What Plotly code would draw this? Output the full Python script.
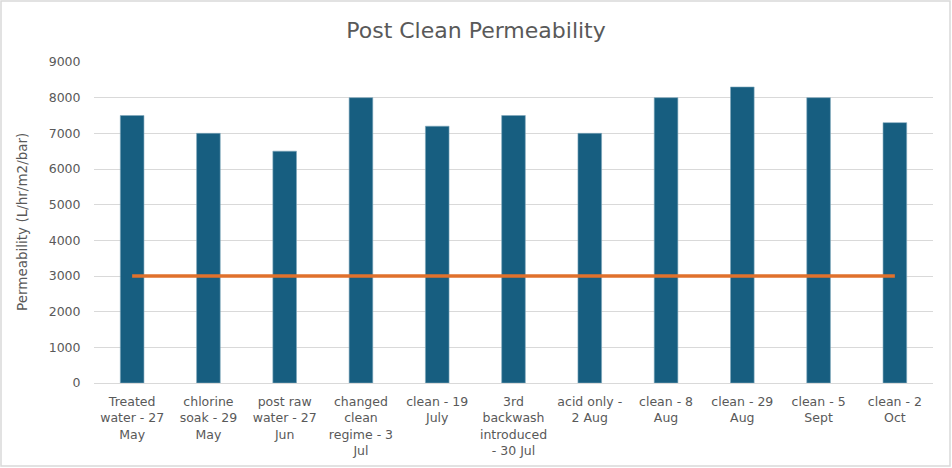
import plotly.graph_objects as go

categories = [
    "Treated<br>water - 27<br>May",
    "chlorine<br>soak - 29<br>May",
    "post raw<br>water - 27<br>Jun",
    "changed<br>clean<br>regime - 3<br>Jul",
    "clean - 19<br>July",
    "3rd<br>backwash<br>introduced<br>- 30 Jul",
    "acid only -<br>2 Aug",
    "clean - 8<br>Aug",
    "clean - 29<br>Aug",
    "clean - 5<br>Sept",
    "clean - 2<br>Oct",
]
permeability = [7500, 7000, 6500, 8000, 7200, 7500, 7000, 8000, 8300, 8000, 7300]
threshold = [3000] * len(categories)

W, H = 952, 468
ml, mr, mt, mb = 94, 19, 62, 85
pw, ph = W - ml - mr, H - mt - mb

FONT = "DejaVu Sans, sans-serif"
GRAY = "#595959"

fig = go.Figure()
fig.add_trace(go.Bar(
    x=categories, y=permeability,
    marker=dict(color="#175E80", line=dict(color="#7FA7BC", width=0.6)),
    showlegend=False,
))
fig.add_trace(go.Scatter(
    x=categories, y=threshold, mode="lines",
    line=dict(color="#E0712C", width=3.5),
    showlegend=False,
))

fig.update_layout(
    width=W, height=H,
    margin=dict(l=ml, r=mr, t=mt, b=mb, autoexpand=False),
    paper_bgcolor="white", plot_bgcolor="white",
    bargap=0.69,
    font=dict(family=FONT, color=GRAY, size=12.5),
    title=dict(text="Post Clean Permeability", x=0.5, xanchor="center",
               y=1 - 30 / H, yanchor="middle",
               font=dict(size=22, color=GRAY, family=FONT)),
    xaxis=dict(
        automargin=False,
        showgrid=False, showline=True, linecolor="#D9D9D9", linewidth=1,
        ticks="outside", ticklen=7, tickcolor="rgba(0,0,0,0)",
        tickfont=dict(size=12.5, color=GRAY),
    ),
    yaxis=dict(
        automargin=False,
        range=[0, 9000], dtick=1000, showgrid=True, gridcolor="#D9D9D9",
        gridwidth=1, zeroline=False, showline=False,
        ticks="outside", ticklen=10, tickcolor="rgba(0,0,0,0)",
        tickfont=dict(size=12.5, color=GRAY),
    ),
    annotations=[dict(
        text="Permeability (L/hr/m2/bar)", textangle=-90,
        xref="paper", yref="paper",
        x=(22 - ml) / pw, y=(H - mb - 222) / ph,
        xanchor="center", yanchor="middle", showarrow=False,
        font=dict(size=13.5, color=GRAY, family=FONT),
    )],
    shapes=[dict(
        type="rect", xref="paper", yref="paper",
        x0=(1 - ml) / pw, x1=(W - 2 - ml) / pw,
        y0=-(H - 2 - mt - ph) / ph, y1=(H - mb - 1) / ph,
        line=dict(color="#D9D9D9", width=1.5), layer="below",
    )],
)

fig.write_html("out.html", config={"displayModeBar": False},
               post_script="document.body.style.margin='0';document.body.style.overflow='hidden';")
